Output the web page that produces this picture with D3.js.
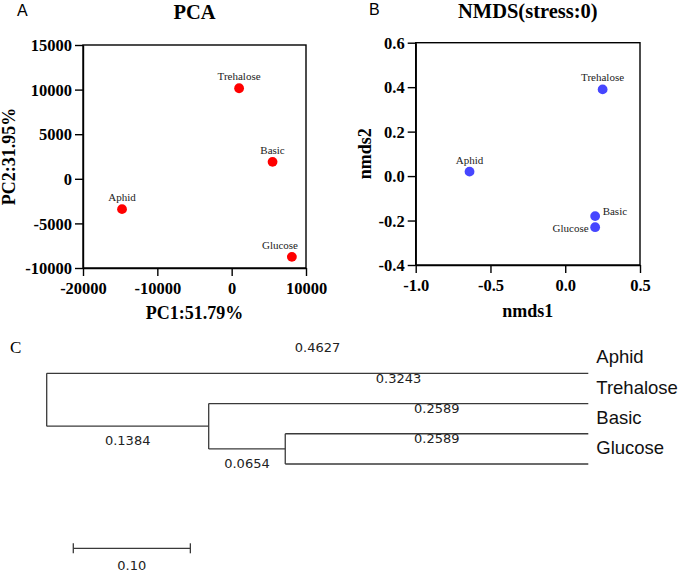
<!DOCTYPE html>
<html>
<head>
<meta charset="utf-8">
<script src="https://cdn.jsdelivr.net/npm/d3@7"></script>
<style>
  html, body { margin: 0; padding: 0; background: #fff; }
  svg { display: block; }
</style>
</head>
<body>
<svg id="chart" width="685" height="573"></svg>
<script>
// ---------------- data ----------------
const samples = ["Trehalose", "Basic", "Aphid", "Glucose"];

// Panel A: PCA scores
const pc1 = [1000, 5500, -14750, 8100];
const pc2 = [10150, 1900, -3400, -8750];
const pcaXTicks = [-20000, -10000, 0, 10000];
const pcaYTicks = [-10000, -5000, 0, 5000, 10000, 15000];

// Panel B: NMDS scores
const nmds1 = [0.25, 0.20, -0.64, 0.20];
const nmds2 = [0.39, -0.18, 0.02, -0.23];
const nmdsLabelSide = ["top", "right", "top", "left"];
const nmdsXTicks = [-1.0, -0.5, 0.0, 0.5];
const nmdsYTicks = [-0.4, -0.2, 0.0, 0.2, 0.4, 0.6];

// Panel C: UPGMA tree
const treeLeaves = ["Aphid", "Trehalose", "Basic", "Glucose"];
const nodeIds     = ["root", "Aphid", "n2", "Trehalose", "n3", "Basic", "Glucose"];
const nodeParents = [null, "root", "root", "n2", "n2", "n3", "n3"];
const nodeLengths = [0, 0.4627, 0.1384, 0.3243, 0.0654, 0.2589, 0.2589];
const scaleBarLength = 0.10;

// ---------------- drawing ----------------
const svg = d3.select("#chart");
const SERIF = "'Liberation Serif', 'Times New Roman', serif";
const SANS = "'Liberation Sans', Arial, sans-serif";
const VERD = "'DejaVu Sans', Verdana, sans-serif";

function scatterPanel(opt) {
  const g = svg.append("g");
  const x = d3.scaleLinear().domain(opt.xDomain).range([opt.left, opt.right]);
  const y = d3.scaleLinear().domain(opt.yDomain).range([opt.bottom, opt.top]);

  // frame
  g.append("rect")
    .attr("x", opt.left).attr("y", opt.top)
    .attr("width", opt.right - opt.left).attr("height", opt.bottom - opt.top)
    .attr("fill", "none").attr("stroke", "#000").attr("stroke-width", 1.4);

  const ax = g.append("g").attr("transform", `translate(0,${opt.bottom})`)
    .call(d3.axisBottom(x).tickValues(opt.xTicks).tickFormat(opt.fmt).tickSize(8).tickSizeOuter(0).tickPadding(4));
  const ay = g.append("g").attr("transform", `translate(${opt.left},0)`)
    .call(d3.axisLeft(y).tickValues(opt.yTicks).tickFormat(opt.fmt).tickSize(8).tickSizeOuter(0).tickPadding(3));
  [ax, ay].forEach(a => {
    a.selectAll("path.domain").attr("stroke", "#000").attr("stroke-width", 1.4);
    a.selectAll(".tick line").attr("stroke", "#000").attr("stroke-width", 1.4);
    a.selectAll(".tick text").attr("fill", "#000")
      .style("font-family", SERIF).style("font-weight", "bold").style("font-size", "16.5px");
  });
  ay.selectAll(".tick text").attr("dy", "0.34em");
  ax.selectAll(".tick text").attr("dy", "0.85em");

  // title
  const cx = (opt.left + opt.right) / 2;
  g.append("text").attr("x", cx).attr("y", opt.titleY).attr("text-anchor", "middle")
    .style("font-family", SERIF).style("font-weight", "bold").style("font-size", "20.5px")
    .text(opt.title);
  g.append("text").attr("x", opt.letterX).attr("y", opt.letterY)
    .style("font-family", SANS).style("font-size", "16px").text(opt.letter);

  // axis titles
  g.append("text").attr("x", cx).attr("y", opt.xLabelY).attr("text-anchor", "middle")
    .style("font-family", SERIF).style("font-weight", "bold").style("font-size", "18px")
    .text(opt.xLabel);
  g.append("text")
    .attr("transform", `translate(${opt.yLabelX},${(opt.top + opt.bottom) / 2}) rotate(-90)`)
    .attr("text-anchor", "middle")
    .style("font-family", SERIF).style("font-weight", "bold").style("font-size", "18px")
    .text(opt.yLabel);

  // points
  const pts = samples.map((s, i) => ({ name: s, cx: x(opt.xs[i]), cy: y(opt.ys[i]), side: opt.sides[i] }));
  g.selectAll("circle.pt").data(pts).enter().append("circle")
    .attr("class", "pt").attr("cx", d => d.cx).attr("cy", d => d.cy).attr("r", 4.9)
    .attr("fill", opt.color);

  const labels = g.selectAll("text.lbl").data(pts).enter().append("text")
    .attr("class", "lbl")
    .style("font-family", SERIF).style("font-size", "11px").attr("fill", "#222")
    .text(d => d.name);
  labels.each(function (d) {
    const t = d3.select(this);
    const w = this.getComputedTextLength();
    if (d.side === "right") {
      t.attr("x", d.cx + 7.5).attr("y", d.cy - 1).attr("text-anchor", "start");
    } else if (d.side === "left") {
      t.attr("x", d.cx - 6.5).attr("y", d.cy + 4.5).attr("text-anchor", "end");
    } else {
      let lx = d.cx;
      const maxRight = opt.right - 8;
      if (lx + w / 2 > maxRight) lx = maxRight - w / 2;
      t.attr("x", lx).attr("y", d.cy - 8).attr("text-anchor", "middle");
    }
  });
}

scatterPanel({
  left: 83, right: 306, top: 45, bottom: 268,
  xDomain: [-20000, 10000], yDomain: [-10000, 15000],
  xTicks: pcaXTicks, yTicks: pcaYTicks, fmt: d => String(d),
  xs: pc1, ys: pc2, sides: samples.map(() => "top"), color: "#ff0000",
  title: "PCA", titleY: 19, letter: "A", letterX: 17, letterY: 16,
  xLabel: "PC1:51.79%", xLabelY: 319, yLabel: "PC2:31.95%", yLabelX: 15
});

scatterPanel({
  left: 415.7, right: 640, top: 42.7, bottom: 265,
  xDomain: [-1.0, 0.5], yDomain: [-0.4, 0.6],
  xTicks: nmdsXTicks, yTicks: nmdsYTicks, fmt: d => d.toFixed(1),
  xs: nmds1, ys: nmds2, sides: nmdsLabelSide, color: "#4646ff",
  title: "NMDS(stress:0)", titleY: 18, letter: "B", letterX: 369, letterY: 15,
  xLabel: "nmds1", xLabelY: 317, yLabel: "nmds2", yLabelX: 371
});

// ---------------- Panel C: dendrogram ----------------
const tableRows = nodeIds.map((id, i) => ({ id, parent: nodeParents[i], length: nodeLengths[i] }));
const root = d3.stratify().id(d => d.id).parentId(d => d.parent)(tableRows);
root.eachBefore(n => { n.dist = n.parent ? n.parent.dist + n.data.length : 0; });
const maxDist = d3.max(root.leaves(), l => l.dist);

const tx = d3.scaleLinear().domain([0, maxDist]).range([46.7, 588.3]);
const ty = d3.scalePoint().domain(treeLeaves).range([373.3, 464]);
root.eachAfter(n => {
  if (!n.children) n.yPos = ty(n.id);
  else n.yPos = (n.children[0].yPos + n.children[n.children.length - 1].yPos) / 2;
});

const tg = svg.append("g");
const lineColor = "#3a3a3a";
// horizontal branches
root.descendants().filter(n => n.parent).forEach(n => {
  tg.append("line")
    .attr("x1", tx(n.parent.dist)).attr("x2", tx(n.dist))
    .attr("y1", n.yPos).attr("y2", n.yPos)
    .attr("stroke", lineColor).attr("stroke-width", 1.3);
});
// vertical connectors
root.descendants().filter(n => n.children).forEach(n => {
  const ys = n.children.map(c => c.yPos);
  tg.append("line")
    .attr("x1", tx(n.dist)).attr("x2", tx(n.dist))
    .attr("y1", d3.min(ys)).attr("y2", d3.max(ys))
    .attr("stroke", lineColor).attr("stroke-width", 1.3);
});
// branch length labels
root.descendants().filter(n => n.parent).forEach(n => {
  const mx = (tx(n.parent.dist) + tx(n.dist)) / 2;
  const isLeaf = !n.children;
  tg.append("text")
    .attr("x", mx).attr("y", isLeaf ? n.yPos - 21 : n.yPos + 19)
    .attr("text-anchor", "middle")
    .style("font-family", VERD).style("font-size", "13px").attr("fill", "#222")
    .text(n.data.length.toFixed(4));
});
// leaf labels
root.leaves().forEach(n => {
  tg.append("text")
    .attr("x", tx(n.dist) + 8).attr("y", n.yPos - 10)
    .style("font-family", SANS).style("font-size", "18.5px").attr("fill", "#111")
    .text(n.id);
});
// panel letter
tg.append("text").attr("x", 10).attr("y", 353)
  .style("font-family", SERIF).style("font-size", "17px").text("C");

// scale bar
const sbX0 = 73.3, sbY = 548.3;
const sbLen = tx(scaleBarLength) - tx(0);
const sb = tg.append("g").attr("stroke", lineColor).attr("stroke-width", 1.3);
sb.append("line").attr("x1", sbX0).attr("x2", sbX0 + sbLen).attr("y1", sbY).attr("y2", sbY);
sb.append("line").attr("x1", sbX0).attr("x2", sbX0).attr("y1", sbY - 5).attr("y2", sbY + 5);
sb.append("line").attr("x1", sbX0 + sbLen).attr("x2", sbX0 + sbLen).attr("y1", sbY - 5).attr("y2", sbY + 5);
tg.append("text").attr("x", sbX0 + sbLen / 2).attr("y", 570).attr("text-anchor", "middle")
  .style("font-family", VERD).style("font-size", "13px").attr("fill", "#222")
  .text(scaleBarLength.toFixed(2));
</script>
</body>
</html>
